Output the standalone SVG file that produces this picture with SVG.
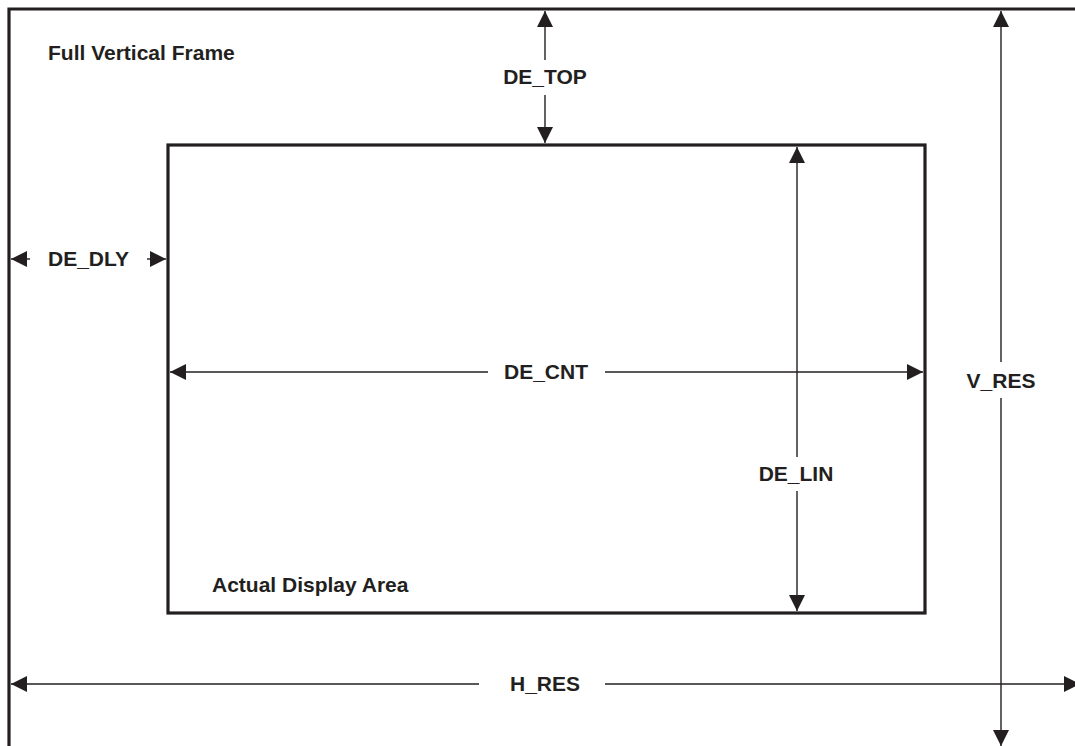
<svg xmlns="http://www.w3.org/2000/svg" width="1075" height="746" viewBox="0 0 1075 746">
<style>
.frame{fill:none;stroke:#231f20;stroke-width:3.2}
.dim{stroke:#231f20;stroke-width:1.4;fill:none;marker-end:url(#ah)}
.lbl{font-family:"Liberation Sans",Arial,sans-serif;font-weight:bold;font-size:21px;fill:#231f20}
.mid{text-anchor:middle}
</style>
<defs>
<marker id="ah" viewBox="0 0 16 16" refX="16" refY="8" markerWidth="16" markerHeight="16" markerUnits="userSpaceOnUse" orient="auto">
<path d="M0,0 L16,8 L0,16 z" fill="#231f20"/>
</marker>
</defs>
<rect width="1075" height="746" fill="#ffffff"/>
<g id="full-frame">
<path class="frame" d="M9,746 L9,9 L1075,9"/>
<text class="lbl" x="48" y="60">Full Vertical Frame</text>
</g>
<g id="display-area">
<rect class="frame" x="168" y="145" width="757" height="468"/>
<text class="lbl" x="212" y="592">Actual Display Area</text>
</g>
<g id="connectors">
<line class="dim" x1="545" y1="60" x2="545" y2="11"/>
<line class="dim" x1="545" y1="95" x2="545" y2="143"/>
<line class="dim" x1="30" y1="259" x2="11" y2="259"/>
<line class="dim" x1="147" y1="259" x2="166" y2="259"/>
<line class="dim" x1="488" y1="372" x2="170" y2="372"/>
<line class="dim" x1="605" y1="372" x2="923" y2="372"/>
<line class="dim" x1="797" y1="457" x2="797" y2="147"/>
<line class="dim" x1="797" y1="491" x2="797" y2="611"/>
<line class="dim" x1="1001" y1="362" x2="1001" y2="11"/>
<line class="dim" x1="1001" y1="398" x2="1001" y2="746"/>
<line class="dim" x1="479" y1="684" x2="11" y2="684"/>
<line class="dim" x1="605" y1="684" x2="1080" y2="684"/>
</g>
<g id="labels">
<text class="lbl mid" x="545" y="84">DE_TOP</text>
<text class="lbl" x="48" y="266">DE_DLY</text>
<text class="lbl mid" x="546" y="379">DE_CNT</text>
<text class="lbl mid" x="796" y="481">DE_LIN</text>
<text class="lbl mid" x="1001" y="388">V_RES</text>
<text class="lbl mid" x="545" y="691">H_RES</text>
</g>
</svg>
